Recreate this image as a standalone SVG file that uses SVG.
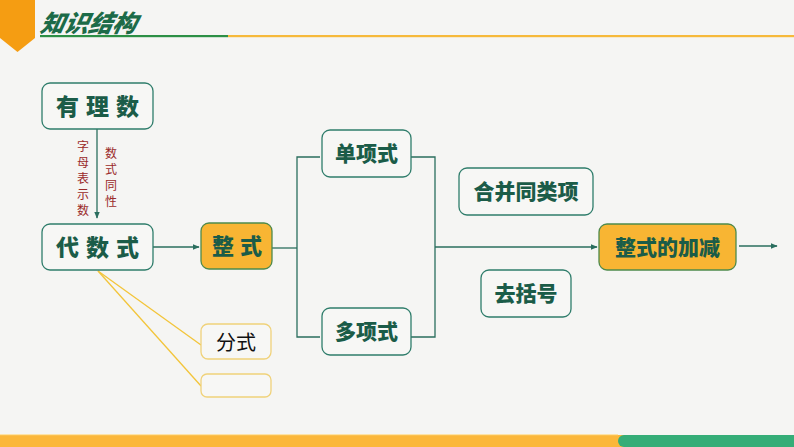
<svg xmlns="http://www.w3.org/2000/svg" width="794" height="447" viewBox="0 0 794 447">
<defs>
<style>
.node{fill:#f7f7f5;stroke:#2f7d6b;stroke-width:1.3}
.hl{fill:#f8b533;stroke:#4e8a4c;stroke-width:1.3}
.yl{fill:#f7f7f5;stroke:#f0d27a;stroke-width:1.3}
.t{font-family:"Noto Sans CJK SC","Noto Sans CJK JP",sans-serif;font-weight:900;fill:#1b5c48;text-anchor:middle}
.red{font-family:"Noto Sans CJK SC",serif;fill:#9a2a2a;font-size:12px;text-anchor:middle}
.c{stroke:#2a6e5e;stroke-width:1.3;fill:none}
.y{stroke:#f3c53a;stroke-width:1.3;fill:none}
</style>
<marker id="ah" viewBox="0 0 10 10" refX="9" refY="5" markerWidth="7" markerHeight="7" orient="auto" markerUnits="userSpaceOnUse"><path d="M0,1 L10,5 L0,9 z" fill="#2a6e5e"/></marker>
</defs>
<rect width="794" height="447" fill="#f5f5f3"/>
<g id="header">
<path d="M0,0 H35 V38 L17.5,52 L0,38 z" fill="#f59d12"/>
<text x="40" y="32" font-family="'Noto Sans CJK SC',sans-serif" font-weight="900" font-style="italic" font-size="24" fill="#1c6b48" transform="skewX(-12) translate(6,0)">知识结构</text>
<rect x="40" y="35" width="188" height="2.2" fill="#2c8f45"/>
<rect x="228" y="35" width="566" height="2.2" fill="#f6b93b"/>
</g>
<g id="footer">
<rect x="0" y="435" width="794" height="12" fill="#fbb73a"/>
<rect x="0" y="434" width="618" height="1.2" fill="#fde3a6"/>
<path d="M624,435 H794 V447 H624 A6,6 0 0 1 624,435 z" fill="#35ad77"/>
</g>
<g id="connectors">
<line class="c" x1="97" y1="129" x2="97" y2="218" marker-end="url(#ah)"/>
<line class="c" x1="153" y1="247" x2="199" y2="247" marker-end="url(#ah)"/>
<polyline class="c" points="320,157 297,157 297,337 320,337"/>
<line class="c" x1="272" y1="248" x2="297" y2="248"/>
<polyline class="c" points="411,157 435,157 435,337 411,337"/>
<line class="c" x1="435" y1="247" x2="597" y2="247" marker-end="url(#ah)"/>
<line class="c" x1="739" y1="246" x2="777" y2="246" marker-end="url(#ah)"/>
<line class="y" x1="98" y1="271" x2="201" y2="345"/>
<line class="y" x1="98" y1="271" x2="201" y2="386"/>
</g>
<g id="label-zimu">
<text class="red" x="83" y="151">字</text>
<text class="red" x="83" y="167">母</text>
<text class="red" x="83" y="183">表</text>
<text class="red" x="83" y="199">示</text>
<text class="red" x="83" y="215">数</text>
</g>
<g id="label-shushi">
<text class="red" x="111" y="158">数</text>
<text class="red" x="111" y="174">式</text>
<text class="red" x="111" y="190">同</text>
<text class="red" x="111" y="206">性</text>
</g>
<g id="n-youlishu"><rect class="node" x="42" y="83" width="111" height="46" rx="8"/><text class="t" x="101" y="115" font-size="23" letter-spacing="7">有理数</text></g>
<g id="n-daishushi"><rect class="node" x="42" y="224" width="111" height="46" rx="8"/><text class="t" x="101" y="256" font-size="23" letter-spacing="7">代数式</text></g>
<g id="n-zhengshi"><rect class="hl" x="201" y="223" width="71" height="46" rx="8"/><text class="t" x="240" y="254" font-size="22" letter-spacing="6">整式</text></g>
<g id="n-danxiangshi"><rect class="node" x="322" y="130" width="89" height="47" rx="8"/><text class="t" x="366.5" y="161" font-size="21">单项式</text></g>
<g id="n-duoxiangshi"><rect class="node" x="322" y="308" width="89" height="47" rx="8"/><text class="t" x="366.5" y="339" font-size="21">多项式</text></g>
<g id="n-hebing"><rect class="node" x="459" y="168" width="134" height="47" rx="8"/><text class="t" x="526" y="199" font-size="21">合并同类项</text></g>
<g id="n-qukuohao"><rect class="node" x="481" y="270" width="90" height="47" rx="8"/><text class="t" x="526" y="301" font-size="21">去括号</text></g>
<g id="n-jiajian"><rect class="hl" x="599" y="224" width="137" height="46" rx="8"/><text class="t" x="667.5" y="255" font-size="21">整式的加减</text></g>
<g id="n-fenshi"><rect class="yl" x="201" y="324" width="70" height="35" rx="7"/><text x="236" y="350" font-family="'Noto Sans CJK SC',sans-serif" font-size="20" fill="#111" text-anchor="middle">分式</text></g>
<g id="n-empty"><rect class="yl" x="201" y="374" width="70" height="23" rx="6"/></g>
</svg>
